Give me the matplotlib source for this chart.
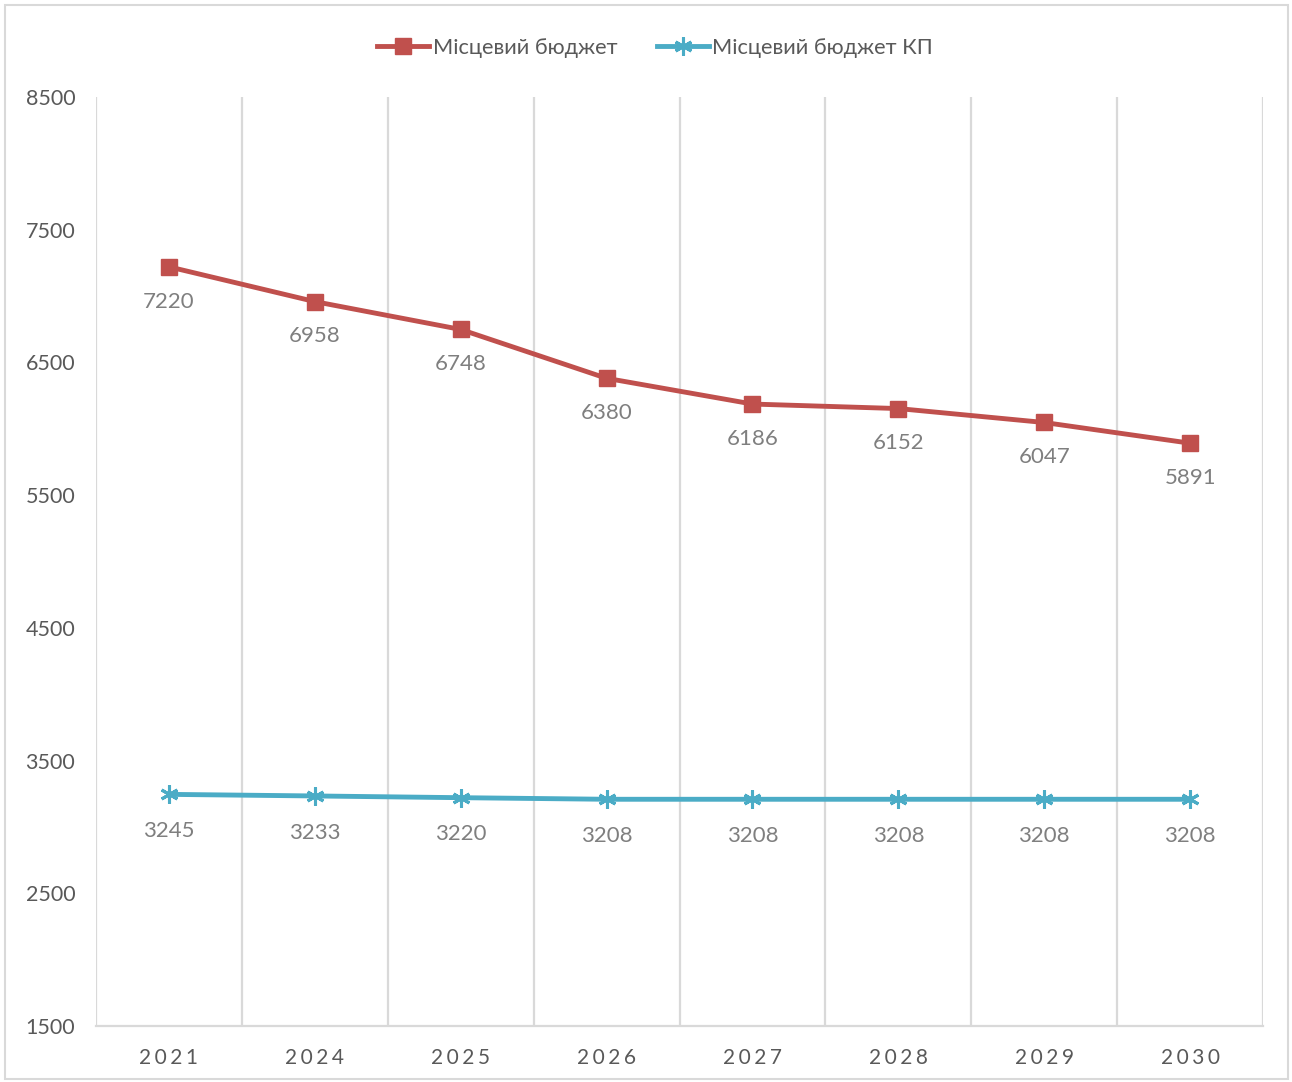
import matplotlib
matplotlib.use("Agg")
import matplotlib.pyplot as plt
from matplotlib.patches import Rectangle

years = ["2021", "2024", "2025", "2026", "2027", "2028", "2029", "2030"]
local_budget = [7220, 6958, 6748, 6380, 6186, 6152, 6047, 5891]
local_budget_kp = [3245, 3233, 3220, 3208, 3208, 3208, 3208, 3208]
series_names = ["Місцевий бюджет", "Місцевий бюджет КП"]
y_ticks = [1500, 2500, 3500, 4500, 5500, 6500, 7500, 8500]

FONT = ["Lato", "DejaVu Sans"]
plt.rcParams["font.family"] = FONT
GRAY = "#595959"
LBL = "#7f7f7f"
RED = "#C0504D"
BLUE = "#4BACC6"

fig = plt.figure(figsize=(12.92, 10.82), dpi=100)
ax = fig.add_axes([0.0743, 0.0518, 0.9033, 0.8586])

x = list(range(len(years)))
ax.plot(x, local_budget, color=RED, lw=3.5, marker="s", ms=12, mec=RED, mfc=RED,
        label=series_names[0], zorder=3)
ax.plot(x, local_budget_kp, color=BLUE, lw=3.5, marker=(6, 2, 0), ms=13, mew=2.2,
        mec=BLUE, label=series_names[1], zorder=3)

for xi, v in zip(x, local_budget):
    ax.annotate(str(v), (xi, v), xytext=(0, -25), textcoords="offset points",
                ha="center", va="center", fontsize=16, color=LBL)
for xi, v in zip(x, local_budget_kp):
    ax.annotate(str(v), (xi, v), xytext=(0, -26.5), textcoords="offset points",
                ha="center", va="center", fontsize=16, color=LBL)

ax.set_xlim(-0.5, len(years) - 0.5)
ax.set_ylim(1500, 8500)
ax.set_yticks(y_ticks)
ax.set_yticklabels([str(t) for t in y_ticks], fontsize=15.5, color=GRAY)
ax.set_xticks(x)
ax.set_xticklabels(["\u2006".join(list(y)) for y in years], fontsize=15, color=GRAY)
ax.tick_params(axis="both", length=0)
ax.tick_params(axis="x", pad=16)
ax.tick_params(axis="y", pad=15)

for b in [i - 0.5 for i in range(len(years) + 1)]:
    ax.axvline(b, color="#d9d9d9", lw=1.6, zorder=1)
for s in ["top", "right", "left"]:
    ax.spines[s].set_visible(False)
ax.spines["bottom"].set_color("#d9d9d9")
ax.spines["bottom"].set_linewidth(1.6)

leg = ax.legend(loc="upper center", bbox_to_anchor=(0.479, 1.085), ncol=2, frameon=False,
                fontsize=15.7, handlelength=2.4, columnspacing=1.8, handletextpad=0.15)
for t in leg.get_texts():
    t.set_color(GRAY)

fig.add_artist(Rectangle((0.004, 0.003), 0.993, 0.992, transform=fig.transFigure,
                         fill=False, edgecolor="#d9d9d9", lw=1.5))

fig.savefig("out.png", dpi=100)
